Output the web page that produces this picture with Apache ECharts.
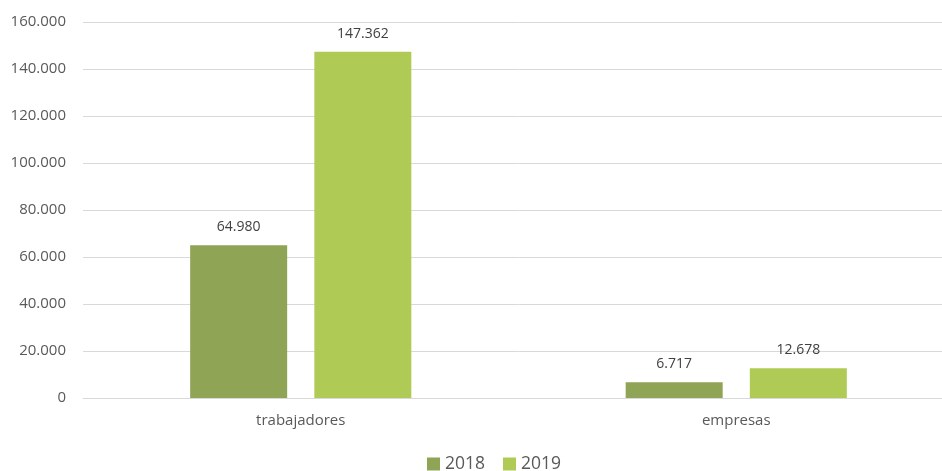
<!DOCTYPE html>
<html><head><meta charset="utf-8">
<script src="https://cdn.jsdelivr.net/npm/echarts@6/dist/echarts.min.js"></script>
<style>html,body{margin:0;padding:0;background:#fff;overflow:hidden;width:942px;height:471px}#c{width:956px;height:471px}</style>
</head><body><div id="c"></div>
<script>
const categories = ["trabajadores", "empresas"];
const series2018 = [64980, 6717];
const series2019 = [147362, 12678];
const seriesNames = ["2018", "2019"];

function fmt(v){ return String(v).replace(/\B(?=(\d{3})+(?!\d))/g, "."); }
const font = "'Open Sans', 'Noto Sans', sans-serif";
const chart = echarts.init(document.getElementById('c'), null, {renderer:'canvas'});
chart.setOption({
  animation:false,
  textStyle:{fontFamily:font},
  grid:{left:83, top:22, width:871, height:376, containLabel:false},
  legend:{top:450, left:422, itemWidth:13, itemHeight:13, itemGap:18,
    icon:'rect', textStyle:{fontSize:17.5, color:'#595959', fontFamily:font},
    data:seriesNames},
  xAxis:{type:'category', data:categories,
    axisLine:{show:true, lineStyle:{color:'#d9d9d9'}}, axisTick:{show:false},
    axisLabel:{fontSize:15, color:'#595959', margin:15, fontFamily:font}},
  yAxis:{type:'value', min:0, max:160000, interval:20000,
    axisLine:{show:false}, axisTick:{show:false},
    splitLine:{lineStyle:{color:'#d9d9d9', width:1}},
    axisLabel:{fontSize:15, color:'#595959', margin:17, formatter:fmt, fontFamily:font}},
  series:[
    {name:seriesNames[0], type:'bar', data:series2018, barWidth:97, barGap:'28%',
     itemStyle:{color:'#8FA454'},
     label:{show:true, position:'top', distance:11, fontSize:14, color:'#404040', formatter:p=>fmt(p.value), fontFamily:font}},
    {name:seriesNames[1], type:'bar', data:series2019, barWidth:97,
     itemStyle:{color:'#B0CB55'},
     label:{show:true, position:'top', distance:11, fontSize:14, color:'#404040', formatter:p=>fmt(p.value), fontFamily:font}}
  ]
});
</script></body></html>
